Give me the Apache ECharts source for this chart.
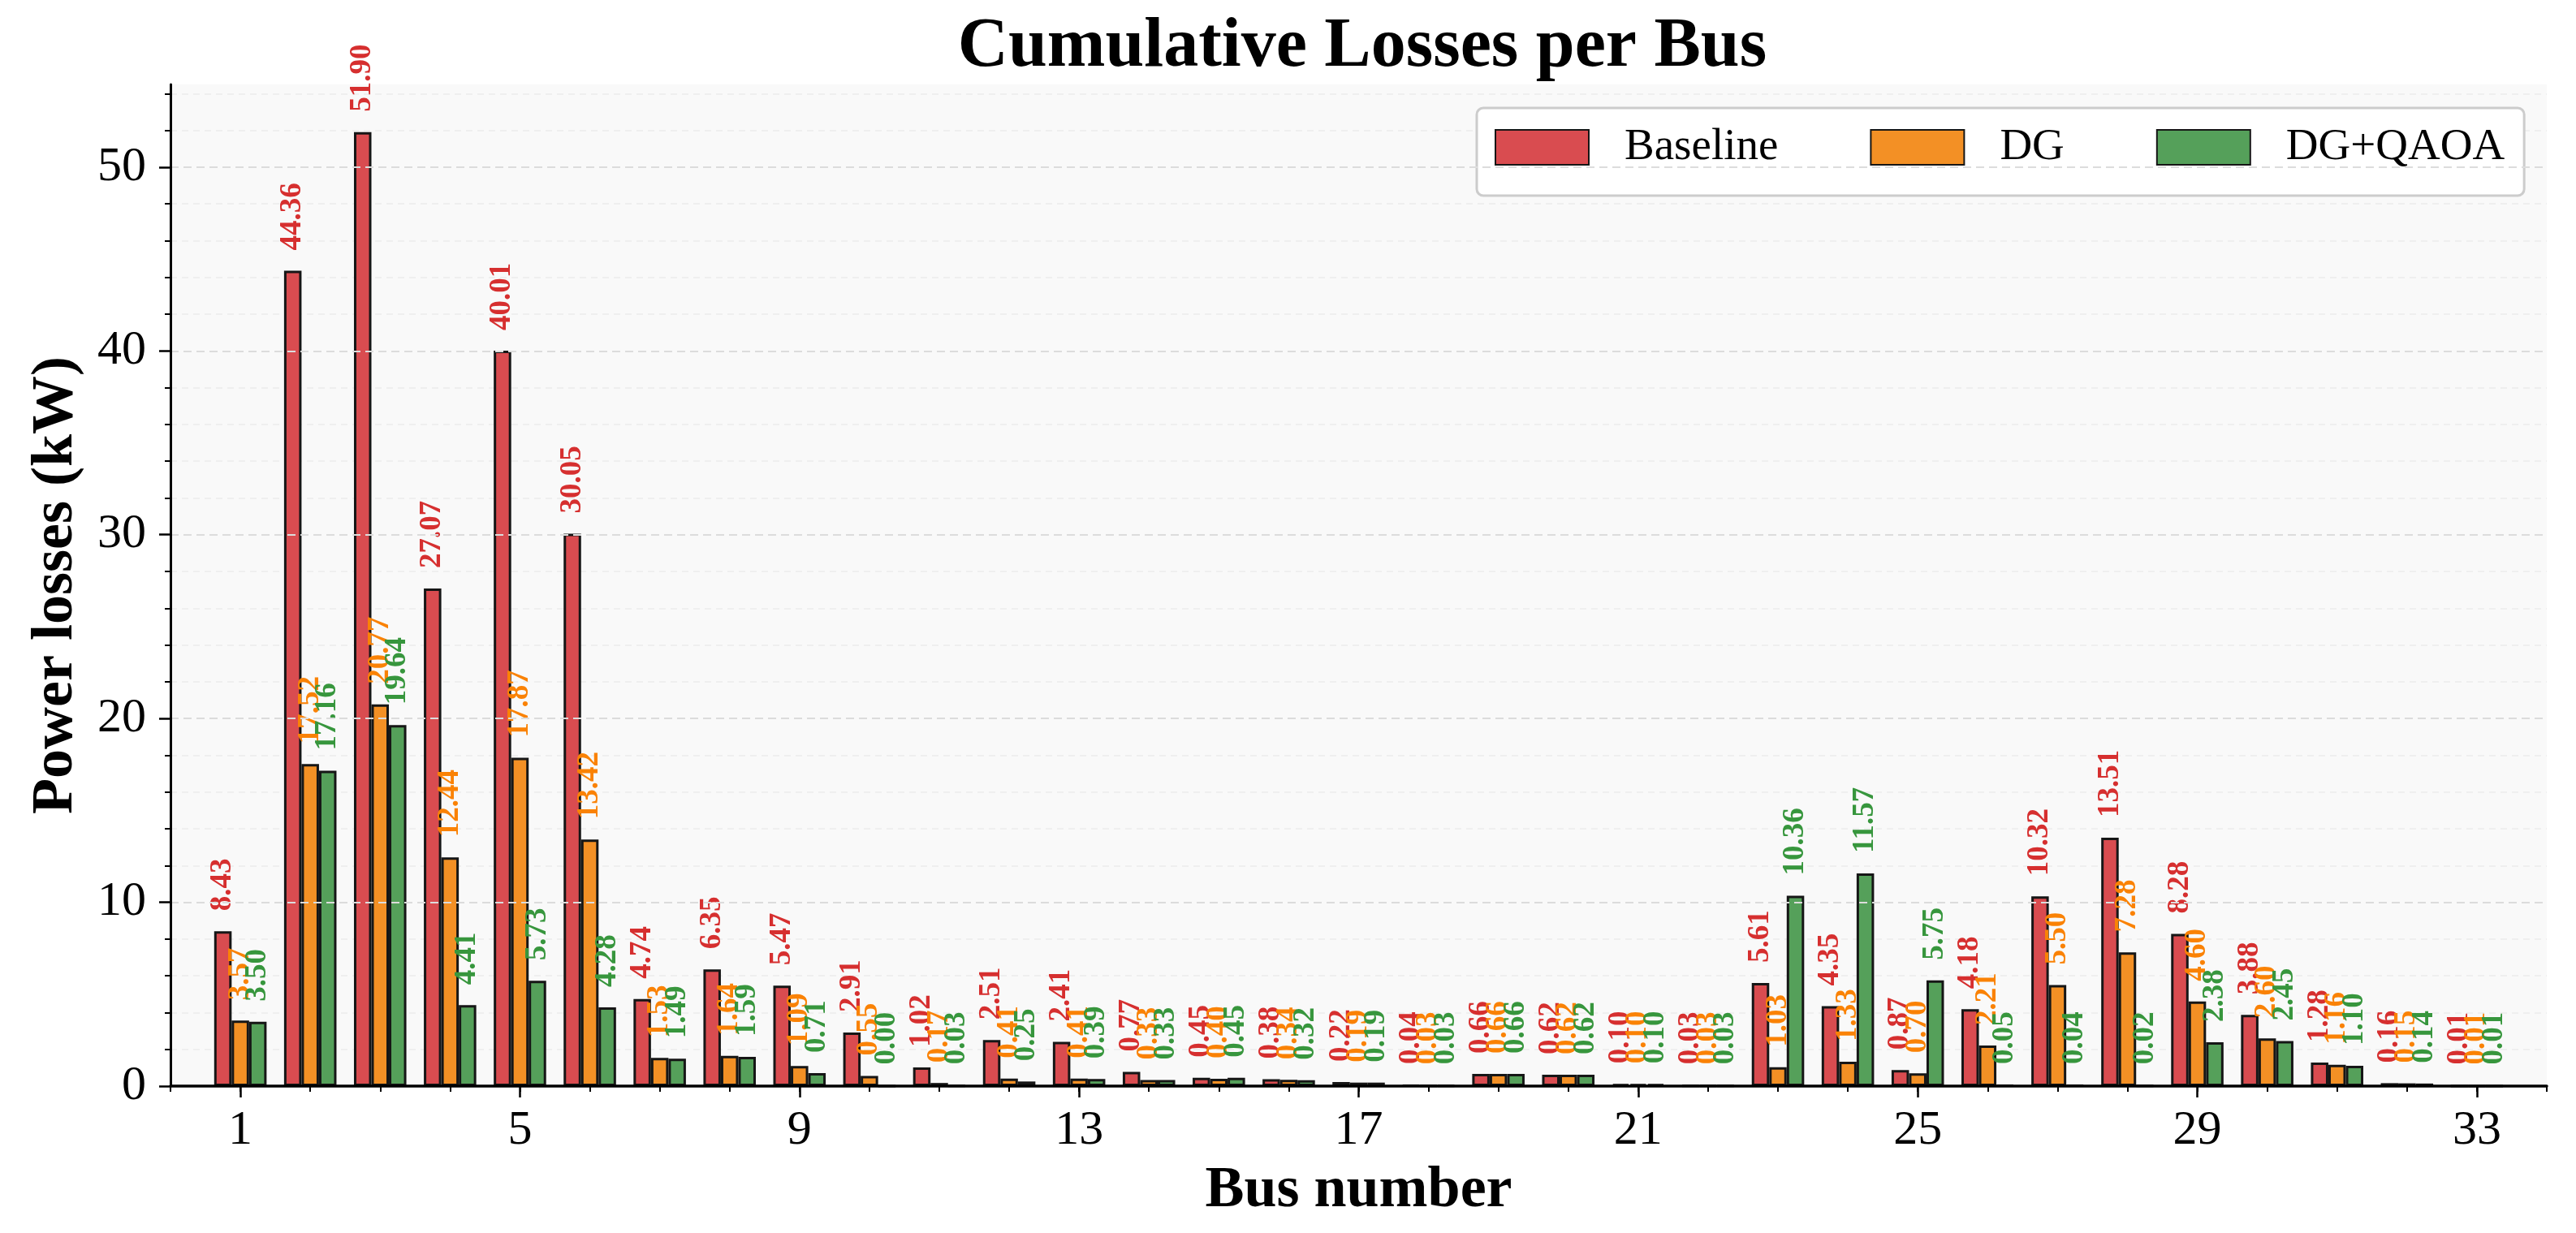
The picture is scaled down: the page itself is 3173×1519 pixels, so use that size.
<!DOCTYPE html>
<html>
<head>
<meta charset="utf-8">
<script src="https://cdn.jsdelivr.net/npm/echarts@6/dist/echarts.min.js"></script>
<style>
html, body { margin: 0; padding: 0; background: #ffffff; }
#chart { width: 3173px; height: 1519px; }
</style>
</head>
<body>
<div id="chart"></div>
<script>
// ---- data ----
const buses = [1,2,3,4,5,6,7,8,9,10,11,12,13,14,15,16,17,18,19,20,21,22,23,24,25,26,27,28,29,30,31,32,33];
const baseline = [8.43,44.36,51.90,27.07,40.01,30.05,4.74,6.35,5.47,2.91,1.02,2.51,2.41,0.77,0.45,0.38,0.22,0.04,0.66,0.62,0.10,0.03,5.61,4.35,0.87,4.18,10.32,13.51,8.28,3.88,1.28,0.16,0.01];
const dg = [3.57,17.52,20.77,12.44,17.87,13.42,1.53,1.64,1.09,0.55,0.17,0.41,0.41,0.33,0.40,0.34,0.19,0.03,0.66,0.62,0.10,0.03,1.03,1.33,0.70,2.21,5.50,7.28,4.60,2.60,1.16,0.15,0.01];
const dgQaoa = [3.50,17.16,19.64,4.41,5.73,4.28,1.49,1.59,0.71,0.00,0.03,0.25,0.39,0.33,0.45,0.32,0.19,0.03,0.66,0.62,0.10,0.03,10.36,11.57,5.75,0.05,0.04,0.02,2.38,2.45,1.10,0.14,0.01];
const seriesNames = ['Baseline', 'DG', 'DG+QAOA'];
const xTickLabels = [1,5,9,13,17,21,25,29,33];
const yMajorTicks = [0,10,20,30,40,50];
const yMinorTicks = [2,4,6,8,12,14,16,18,22,24,26,28,32,34,36,38,42,44,46,48,52,54];
const yMax = 54.5;

// ---- build ----
const FONT = "'Liberation Serif', 'Times New Roman', serif";
const cats = [''].concat(buses.map(String)).concat(['']);
const pad = arr => [null].concat(arr).concat([null]);
const barColors = ['#d94c50', '#f39025', '#55a05a'];
const labelColors = ['#d62f2f', '#fa8205', '#37963d'];
const seriesData = [baseline, dg, dgQaoa];

const series = seriesData.map((d, i) => ({
  name: seriesNames[i],
  type: 'bar',
  xAxisIndex: 0,
  yAxisIndex: 0,
  data: pad(d),
  barWidth: '25%',
  barGap: '0%',
  itemStyle: { color: barColors[i], borderColor: '#161616', borderWidth: 3 },
  label: {
    show: true,
    position: 'top',
    distance: 25,
    rotate: 90,
    align: 'left',
    verticalAlign: 'middle',
    fontFamily: FONT,
    fontWeight: 'bold',
    fontSize: 37,
    color: labelColors[i],
    formatter: p => (p.value == null ? '' : Number(p.value).toFixed(2))
  },
  emphasis: { disabled: true }
}));

const chart = echarts.init(document.getElementById('chart'), null, { renderer: 'canvas' });
chart.setOption({
  animation: false,
  backgroundColor: '#ffffff',
  title: {
    text: 'Cumulative Losses per Bus',
    left: 1673,
    textAlign: 'center',
    top: 11,
    textStyle: { fontFamily: FONT, fontWeight: 'bold', fontSize: 86, color: '#000' }
  },
  legend: {
    data: seriesNames,
    left: 1819,
    top: 133,
    orient: 'horizontal',
    icon: 'rect',
    itemWidth: 115,
    itemHeight: 43,
    itemGap: 113,
    padding: [21, 24, 32, 22],
    backgroundColor: '#ffffff',
    borderColor: '#cccccc',
    borderWidth: 3,
    borderRadius: 8,
    textStyle: { fontFamily: FONT, fontSize: 55, color: '#000', padding: [0, 0, 0, 39] }
  },
  grid: {
    left: 210, right: 36, top: 104, bottom: 181,
    show: true, backgroundColor: '#f9f9f9', borderWidth: 0
  },
  xAxis: [
    {
      type: 'category',
      data: cats,
      boundaryGap: false,
      position: 'bottom',
      axisLine: { show: true, lineStyle: { color: '#000', width: 3.5 } },
      axisTick: { show: true, interval: 0, length: 7, lineStyle: { color: '#000', width: 2 } },
      axisLabel: { show: false },
      splitLine: { show: false },
      z: 5
    },
    {
      type: 'category',
      data: cats,
      boundaryGap: false,
      position: 'bottom',
      axisLine: { show: false },
      axisTick: { show: true, length: 14, lineStyle: { color: '#000', width: 2.5 },
        interval: (idx, val) => xTickLabels.indexOf(Number(val)) >= 0 && val !== '' },
      axisLabel: { show: true, margin: 25, fontFamily: FONT, fontSize: 60, color: '#000',
        interval: (idx, val) => xTickLabels.indexOf(Number(val)) >= 0 && val !== '' },
      splitLine: { show: false },
      name: 'Bus number',
      nameLocation: 'middle',
      nameGap: 93,
      nameTextStyle: { fontFamily: FONT, fontWeight: 'bold', fontSize: 72, color: '#000' }
    }
  ],
  yAxis: [
    {
      type: 'value',
      min: 0, max: yMax, interval: 10,
      position: 'left',
      axisLine: { show: true, lineStyle: { color: '#000', width: 3 } },
      axisTick: { show: true, length: 14, customValues: yMajorTicks, lineStyle: { color: '#000', width: 2.5 } },
      axisLabel: { show: true, margin: 30, customValues: yMajorTicks, fontFamily: FONT, fontSize: 60, color: '#000' },
      splitLine: { show: true, lineStyle: { color: '#dcdcdc', width: 2, type: [10, 6] } },
      name: 'Power losses (kW)',
      nameLocation: 'middle',
      nameGap: 105,
      nameTextStyle: { fontFamily: FONT, fontWeight: 'bold', fontSize: 72, color: '#000' },
      z: 5
    },
    {
      type: 'value',
      min: 0, max: yMax, interval: 2,
      position: 'left',
      axisLine: { show: false },
      axisTick: { show: true, length: 7, customValues: yMinorTicks, lineStyle: { color: '#000', width: 2 } },
      axisLabel: { show: false },
      splitLine: { show: true, lineStyle: { color: '#ececec', width: 1.5, type: [8, 6] } }
    }
  ],
  series: series
});
</script>
</body>
</html>
